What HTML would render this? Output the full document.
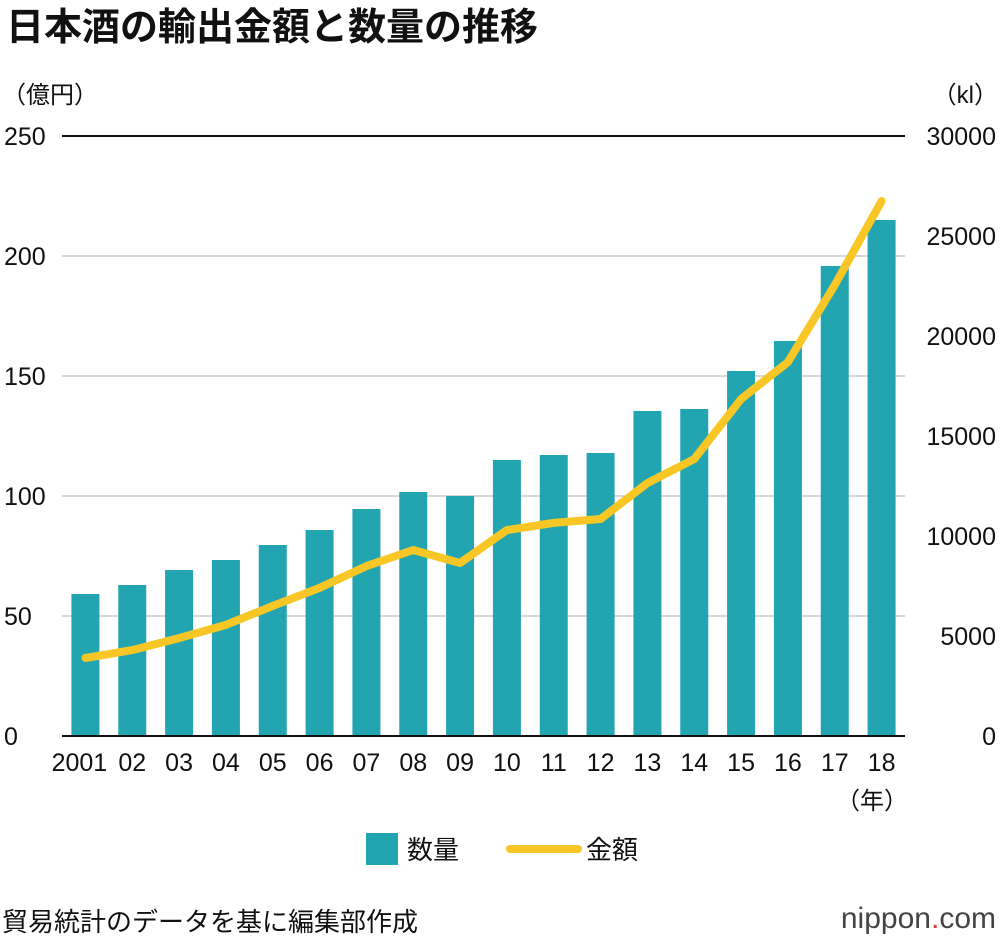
<!DOCTYPE html>
<html><head><meta charset="utf-8"><style>
body{margin:0;background:#fff;font-family:"Liberation Sans","Noto Sans CJK JP",sans-serif;}
svg text{font-family:"Liberation Sans","Noto Sans CJK JP",sans-serif;}
</style></head><body>
<svg id="c" width="1000" height="940" xmlns="http://www.w3.org/2000/svg">
<text x="6" y="40" font-size="38" font-weight="bold" fill="#111">日本酒の輸出金額と数量の推移</text>
<text x="2" y="103" font-size="24" fill="#111">（億円）</text>
<text x="998" y="103" font-size="24" fill="#111" text-anchor="end">（kl）</text>
<text x="908" y="809" font-size="24" fill="#111" text-anchor="end">（年）</text>
<g id="grid"></g><g id="bars"></g><g id="line"></g><g id="ticks"></g>
<rect x="366" y="833" width="32" height="32" fill="#22a5b1"/>
<text x="407" y="859" font-size="26" fill="#111">数量</text>
<line x1="510" y1="849" x2="578" y2="849" stroke="#f8c725" stroke-width="8" stroke-linecap="round"/>
<text x="586" y="859" font-size="26" fill="#111">金額</text>
<text x="2" y="931" font-size="26" fill="#111">貿易統計のデータを基に編集部作成</text>
<text x="996" y="928" font-size="30" fill="#444" text-anchor="end">nippon<tspan fill="#e8382f">.</tspan>com</text>
</svg>
<script>
const categories=["2001","02","03","04","05","06","07","08","09","10","11","12","13","14","15","16","17","18"];
const volumeKl=[7100,7550,8300,8800,9550,10300,11350,12200,12000,13800,14050,14150,16250,16350,18250,19750,23500,25800];
const valueOku=[32.5,35.8,40.8,46.3,54.2,61.7,70.8,77.5,72.1,85.8,88.8,90.4,105.4,115.4,140.4,155.8,187.9,222.9];
const leftTicks=[0,50,100,150,200,250];
const rightTicks=[0,5000,10000,15000,20000,25000,30000];
const NS="http://www.w3.org/2000/svg";
const x0=62,x1=905,yB=736,yT=136;
const step=(x1-x0)/categories.length;
const xC=i=>x0+step*(i+0.5);
const yL=v=>yB-(v/250)*(yB-yT);
const yR=v=>yB-(v/30000)*(yB-yT);
function mk(t,a,p){const e=document.createElementNS(NS,t);for(const k in a)e.setAttribute(k,a[k]);p.appendChild(e);return e;}
const grid=document.getElementById('grid'),ticks=document.getElementById('ticks');
leftTicks.forEach((v,i)=>{
 const y=yL(v);
 const g=mk('line',{x1:x0,x2:x1,y1:y,y2:y,stroke:(v===250||v===0)?'#111':'#ccc','stroke-width':(v===250)?2:1.5},grid);
 
 
 const t=mk('text',{x:4,y:y+9,'font-size':25,fill:'#111'},ticks);t.textContent=v;
 
 
});
rightTicks.forEach(v=>{
 const t=mk('text',{x:996,y:yR(v)+9,'font-size':25,fill:'#111','text-anchor':'end'},ticks);t.textContent=v;
 
 
});
const bars=document.getElementById('bars');
volumeKl.forEach((v,i)=>{
 const r=mk('rect',{x:xC(i)-14,y:yR(v),width:28,height:yB-yR(v),fill:'#22a5b1'},bars);
 
 
 const t=mk('text',{x:xC(i)+(i===0?-6:0),y:yB+35,'font-size':25,fill:'#111','text-anchor':'middle'},ticks);t.textContent=categories[i];
 
 
});
const bl=mk('line',{x1:x0,x2:x1,y1:yB,y2:yB,stroke:'#111','stroke-width':2},ticks);


const pts=valueOku.map((v,i)=>xC(i)+','+yL(v)).join(' ');
const pl=mk('polyline',{points:pts,fill:'none',stroke:'#f8c725','stroke-width':8,'stroke-linejoin':'round','stroke-linecap':'round'},document.getElementById('line'));


</script>
</body></html>
